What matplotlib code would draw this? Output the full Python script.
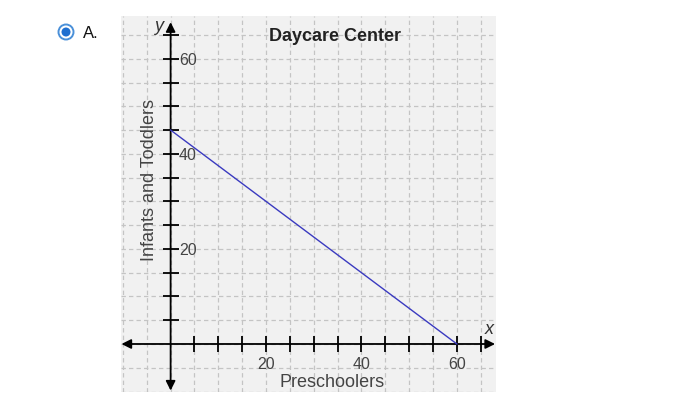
import matplotlib.pyplot as plt
from matplotlib.patches import Ellipse

plt.rcParams['font.family'] = ['Liberation Sans', 'DejaVu Sans']

# data
line_x = [0, 60]
line_y = [45, 0]
tick_vals = list(range(5, 70, 5))
tick_labels = ["20", "40", "60"]
grid_vals = list(range(-10, 70, 5))

xmin, xmax = -10.4, 68.2
ymin, ymax = -10.1, 69.0

fig = plt.figure(figsize=(6.92, 3.98), dpi=100)
ax = fig.add_axes([121 / 692, 6 / 398, 375 / 692, 376 / 398])
ax.set_facecolor("#f1f1f1")
ax.set_xlim(xmin, xmax)
ax.set_ylim(ymin, ymax)

# dashed grid
for g in grid_vals:
    ax.axvline(g, color="#c4c4c4", lw=0.9, ls=(0, (3.5, 2.5)), zorder=0)
    ax.axhline(g, color="#c4c4c4", lw=0.9, ls=(0, (3.5, 2.5)), zorder=0)

# axes lines through origin
for s in ax.spines.values():
    s.set_visible(False)
ax.spines["bottom"].set_position(("data", 0))
ax.spines["right"].set_position(("data", 0))
ax.yaxis.tick_right()
ax.xaxis.tick_bottom()

ax.set_xticks(tick_vals, [str(v) if str(v) in tick_labels else "" for v in tick_vals])
ax.set_yticks(tick_vals, [str(v) if str(v) in tick_labels else "" for v in tick_vals])
ax.tick_params(axis="x", direction="inout", length=12, width=1.3, pad=3.5,
               labelsize=11.5, labelcolor="#444444", color="black")
ax.tick_params(axis="y", direction="inout", length=12, width=1.3, pad=0,
               labelsize=11.5, labelcolor="#444444", color="black")

arrow = dict(arrowstyle="<|-|>", color="black", lw=1.3, mutation_scale=14,
             shrinkA=0, shrinkB=0)
ax.annotate("", xy=(xmax - 0.2, 0), xytext=(xmin + 0.1, 0), arrowprops=arrow)
ax.annotate("", xy=(0, ymax - 1.3), xytext=(0, ymin + 0.3), arrowprops=arrow)

ax.plot(line_x, line_y, color="#3a3ac0", lw=1.0, zorder=3)

ax.text(-1.6, ymax - 2.3, "y", style="italic", fontsize=13, color="#333333",
        ha="right", va="center")
ax.text(xmax - 1.4, 3.0, "x", style="italic", fontsize=13, color="#333333",
        ha="center", va="center")

ax.text(34.5, 64.6, "Daycare Center", fontsize=13, fontweight="bold",
        color="#222222", ha="center", va="center")
ax.text(-4.4, 34.5, "Infants and Toddlers", rotation=90, fontsize=13,
        color="#444444", ha="center", va="center")
ax.text(33.8, -8.1, "Preschoolers", fontsize=13, color="#444444",
        ha="center", va="center")

# answer option marker
c = (66 / 692, 1 - 32 / 398)
fig.patches.append(Ellipse(c, 15 / 692, 15 / 398, transform=fig.transFigure,
                           facecolor="white", edgecolor="#4a90d9", lw=1.4))
fig.patches.append(Ellipse(c, 9 / 692, 9 / 398, transform=fig.transFigure,
                           facecolor="#1f6fd0", edgecolor="none"))
fig.text(83 / 692, 1 - 33 / 398, "A.", fontsize=12, color="#111111", va="center")

fig.savefig("out.png", dpi=100)
